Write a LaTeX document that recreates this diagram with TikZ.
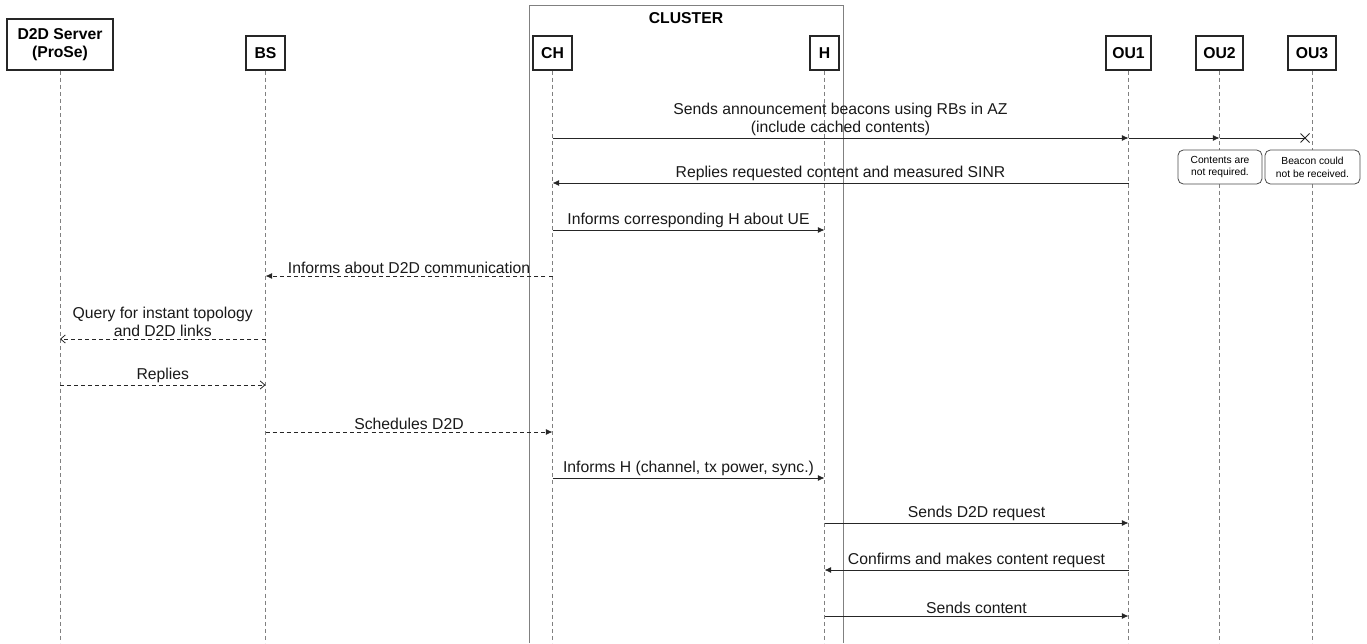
\documentclass[tikz,border=0pt]{standalone}
\usepackage{fontspec}
\setmainfont{Liberation Sans}
\usetikzlibrary{arrows.meta}

\begin{document}
\begin{tikzpicture}[x=0.75pt,y=-0.75pt,
	head/.style={draw=black!85,fill=white,line width=0.9pt,minimum height=25.5pt,inner sep=0pt,align=center,font=\bfseries\fontsize{11.8}{13.6}\selectfont},
	life/.style={draw=black!50,line width=0.6pt,dash pattern=on 3pt off 2.3pt},
	msg/.style={draw=black!85,line width=0.6pt,-{Latex[length=5pt,width=4.5pt]}},
	ret/.style={msg,dash pattern=on 3pt off 2.3pt},
	retopen/.style={draw=black!85,line width=0.6pt,dash pattern=on 3pt off 2.3pt,-{Straight Barb[length=3.5pt,width=6pt]}},
	lbl/.style={above,inner sep=1.5pt,align=center,text=black!90,font=\fontsize{11.8}{13.6}\selectfont},
	note/.style={draw=black!70,fill=white,rounded corners=4pt,line width=0.6pt,minimum height=25.5pt,inner sep=0pt,align=center,font=\fontsize{7.7}{9.6}\selectfont}
]
	\useasboundingbox (0,0) rectangle (1367,643);

	% cluster frame
	\draw[draw=black!50,line width=0.7pt] (529,643) -- (529,5) -- (843,5) -- (843,643);
	\node[font=\bfseries\fontsize{11.8}{13.6}\selectfont] (cltitle) at (686,18) {CLUSTER};

	% lifeline heads
	\node[head,minimum width=79.5pt,minimum height=38.25pt] (srv) at (60,44.5) {D2D Server\\ (ProSe)};
	\node[head,minimum width=29.25pt] (bs) at (265.5,53) {BS};
	\node[head,minimum width=29.25pt] (ch) at (552.5,53) {CH};
	\node[head,minimum width=21.75pt] (h) at (824.5,53) {H};
	\node[head,minimum width=33.75pt] (ou1) at (1128.5,53) {OU1};
	\node[head,minimum width=35.25pt] (ou2) at (1219.5,53) {OU2};
	\node[head,minimum width=36pt] (ou3) at (1312,53) {OU3};

	\foreach \n in {srv,bs,ch,h,ou1,ou2,ou3}
		\draw[life] (\n.south) -- (\n |- 0,643);

	% messages
	\draw[msg] (ch |- 0,138) -- node[lbl] {Sends announcement beacons using RBs in AZ\\ (include cached contents)} (ou1 |- 0,138);
	\draw[msg] (ou1 |- 0,138) -- (ou2 |- 0,138);
	\coordinate (lost) at (1305,138);
	\draw[draw=black!85,line width=0.6pt] (ou2 |- 0,138) -- (lost);
	\draw[draw=black!85,line width=0.6pt] (lost) +(-4.5,-4.5) -- +(4.5,4.5) (lost) +(-4.5,4.5) -- +(4.5,-4.5);

	\node[note,minimum width=63pt] (nt2) at (1220,167) {Contents are\\ not required.};
	\node[note,minimum width=71.25pt] (nt3) at (1312.5,167) {Beacon could\\ not be received.};

	\draw[msg] (ou1 |- 0,183) -- node[lbl] {Replies requested content and measured SINR} (ch |- 0,183);
	\draw[msg] (ch |- 0,230) -- node[lbl] {Informs corresponding H about UE} (h |- 0,230);
	\draw[ret] (ch |- 0,276) -- node[lbl] {Informs about D2D communication} (bs |- 0,276);
	\draw[retopen] (bs |- 0,339) -- node[lbl] {Query for instant topology\\ and D2D links} (srv |- 0,339);
	\draw[retopen] (srv |- 0,385) -- node[lbl] {Replies} (bs |- 0,385);
	\draw[ret] (bs |- 0,432) -- node[lbl] {Schedules D2D} (ch |- 0,432);
	\draw[msg] (ch |- 0,478) -- node[lbl] {Informs H (channel, tx power, sync.)} (h |- 0,478);
	\draw[msg] (h |- 0,523) -- node[lbl] {Sends D2D request} (ou1 |- 0,523);
	\draw[msg] (ou1 |- 0,570) -- node[lbl] {Confirms and makes content request} (h |- 0,570);
	\draw[msg] (h |- 0,616) -- node[lbl] {Sends content} (ou1 |- 0,616);
\end{tikzpicture}
\end{document}
